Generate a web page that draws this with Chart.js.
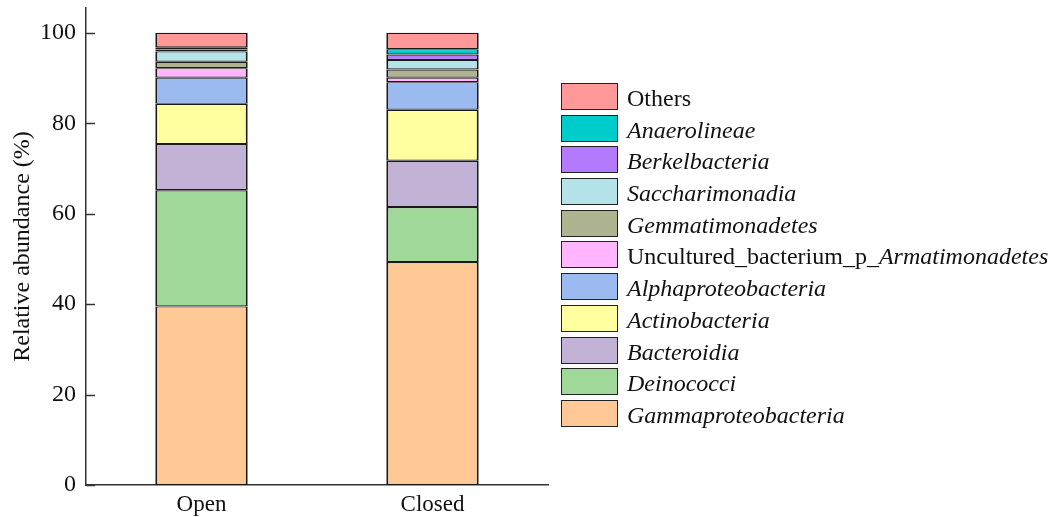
<!DOCTYPE html>
<html>
<head>
<meta charset="utf-8">
<script src="https://cdn.jsdelivr.net/npm/chart.js@4/dist/chart.umd.min.js"></script>
<style>
  html, body { margin: 0; padding: 0; background: #fff; }
  #wrap { position: relative; width: 1052px; height: 517px; }
  #legend { position: absolute; left: 561px; top: 82px; font-family: "Liberation Serif", "Times New Roman", serif; font-size: 24px; color: #111; }
  .row { position: relative; height: 31.7px; }
  .box { position: absolute; left: 0; top: 1px; width: 55px; height: 25px; border: 1.5px solid #222; }
  .txt { position: absolute; left: 66px; top: 2px; line-height: 29px; white-space: nowrap; }
</style>
</head>
<body>
<div id="wrap">
  <canvas id="c" width="1052" height="517"></canvas>
  <div id="legend"></div>
</div>
<script>
// ---- data ----
const categories = ['Open', 'Closed'];
const yTicks = [0, 20, 40, 60, 80, 100];

const gammaproteobacteria = [39.5, 49.3];
const deinococci = [25.7, 12.2];
const bacteroidia = [10.2, 10.2];
const actinobacteria = [8.9, 11.3];
const alphaproteobacteria = [5.8, 6.1];
const armatimonadetes = [2.1, 1.0];
const gemmatimonadetes = [1.4, 1.8];
const saccharimonadia = [2.3, 2.1];
const berkelbacteria = [0.4, 1.2];
const anaerolineae = [0.5, 1.2];
const others = [3.2, 3.6];

// series (bottom to top): [plain prefix, italic part, values, colour]
const series = [
  ['', 'Gammaproteobacteria', gammaproteobacteria, '#FFC894'],
  ['', 'Deinococci', deinococci, '#A0D89A'],
  ['', 'Bacteroidia', bacteroidia, '#C1B2D6'],
  ['', 'Actinobacteria', actinobacteria, '#FFFFA0'],
  ['', 'Alphaproteobacteria', alphaproteobacteria, '#9BBAF0'],
  ['Uncultured_bacterium_p_', 'Armatimonadetes', armatimonadetes, '#FFB6FF'],
  ['', 'Gemmatimonadetes', gemmatimonadetes, '#AEB390'],
  ['', 'Saccharimonadia', saccharimonadia, '#B4E4EA'],
  ['', 'Berkelbacteria', berkelbacteria, '#B379FF'],
  ['', 'Anaerolineae', anaerolineae, '#00CCCC'],
  ['Others', '', others, '#FF9999']
];

const FONT = '"Liberation Serif", "Times New Roman", serif';

const datasets = series.map(s => ({
  label: s[0] + s[1],
  data: s[2],
  backgroundColor: s[3],
  borderColor: '#1a1a1a',
  borderWidth: { top: 1.2, bottom: 1.2, left: 2, right: 2 },
  borderSkipped: false
}));

const innerTicks = {
  id: 'innerTicks',
  afterDraw(chart) {
    const y = chart.scales.y;
    const ctx = chart.ctx;
    ctx.save();
    ctx.strokeStyle = '#333';
    ctx.lineWidth = 1.5;
    yTicks.forEach(v => {
      const py = Math.round(y.getPixelForValue(v)) + 0.5;
      ctx.beginPath();
      ctx.moveTo(y.right, py);
      ctx.lineTo(y.right + 9, py);
      ctx.stroke();
    });
    ctx.restore();
  }
};

new Chart(document.getElementById('c'), {
  type: 'bar',
  data: { labels: categories, datasets },
  options: {
    responsive: false,
    animation: false,
    layout: { padding: { left: 0, top: 8, right: 504, bottom: 0 } },
    plugins: { legend: { display: false }, tooltip: { enabled: false } },
    datasets: { bar: { categoryPercentage: 1, barPercentage: 0.4 } },
    scales: {
      x: {
        stacked: true,
        offset: true,
        grid: { display: false, drawTicks: false },
        border: { display: true, color: '#333', width: 1.5 },
        ticks: { color: '#111', font: { family: FONT, size: 23 }, padding: 6 },
        afterFit(s) { s.height = 32; s.paddingLeft = 0; s.paddingRight = 0; }
      },
      y: {
        stacked: true,
        min: 0,
        max: 105.5,
        grid: { display: false, drawTicks: false },
        border: { display: true, color: '#333', width: 1.5 },
        afterBuildTicks(axis) { axis.ticks = yTicks.map(v => ({ value: v })); },
        ticks: { color: '#111', font: { family: FONT, size: 24 }, padding: 10 },
        title: { display: true, text: 'Relative abundance (%)', color: '#111', font: { family: FONT, size: 24 }, padding: { top: 8, bottom: 0 } },
        afterFit(s) { s.width = 86; s.paddingTop = 0; s.paddingBottom = 0; }
      }
    }
  },
  plugins: [innerTicks]
});

// HTML legend (top to bottom = reverse stacking)
const legend = document.getElementById('legend');
series.slice().reverse().forEach(s => {
  const row = document.createElement('div');
  row.className = 'row';
  const box = document.createElement('div');
  box.className = 'box';
  box.style.background = s[3];
  const txt = document.createElement('div');
  txt.className = 'txt';
  if (s[0]) txt.appendChild(document.createTextNode(s[0]));
  if (s[1]) { const i = document.createElement('i'); i.textContent = s[1]; txt.appendChild(i); }
  row.appendChild(box);
  row.appendChild(txt);
  legend.appendChild(row);
});
</script>
</body>
</html>
